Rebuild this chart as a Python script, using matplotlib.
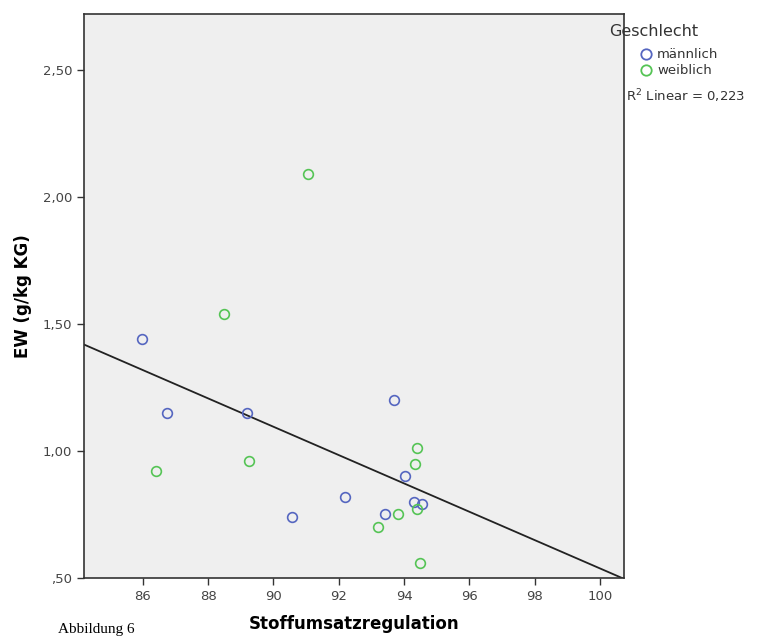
import numpy as np
import matplotlib
matplotlib.use("Agg")
import matplotlib.pyplot as plt
from matplotlib.lines import Line2D

# Stoffumsatzregulation vs. EW, split by Geschlecht
x_m = [85.97, 86.73, 89.18, 93.68, 94.04, 92.18, 90.56, 93.40, 94.29, 94.56]
y_m = [1.44, 1.15, 1.15, 1.20, 0.90, 0.82, 0.74, 0.75, 0.80, 0.79]
x_w = [91.05, 88.48, 86.40, 89.24, 94.38, 94.32, 93.19, 93.80, 94.40, 94.50]
y_w = [2.09, 1.54, 0.92, 0.96, 1.01, 0.95, 0.70, 0.75, 0.77, 0.56]

x_ticks = [86, 88, 90, 92, 94, 96, 98, 100]
y_ticks = [0.5, 1.0, 1.5, 2.0, 2.5]
y_ticklabels = [",50", "1,00", "1,50", "2,00", "2,50"]
r2_text = "0,223"

col_m = "#5566c0"
col_w = "#55c455"

fig = plt.figure(figsize=(7.58, 6.37), dpi=100)
ax = fig.add_axes([84/758, 59/637, 540/758, 564/637])
ax.set_facecolor("#efefef")

xlim = (84.2, 100.73)
ylim = (0.5, 2.72)

# fit line over all cases
xa = np.array(x_m + x_w)
ya = np.array(y_m + y_w)
slope, icpt = np.polyfit(xa, ya, 1)
xs = np.array(xlim)
ax.plot(xs, icpt + slope * xs, color="#222222", lw=1.3, zorder=2)

ax.plot(x_m, y_m, "o", mfc="none", mec=col_m, ms=7, mew=1.2, zorder=3, clip_on=False)
ax.plot(x_w, y_w, "o", mfc="none", mec=col_w, ms=7, mew=1.2, zorder=3, clip_on=False)

ax.set_xlim(*xlim)
ax.set_ylim(*ylim)
ax.set_xticks(x_ticks)
ax.set_xticklabels([str(t) for t in x_ticks])
ax.set_yticks(y_ticks)
ax.set_yticklabels(y_ticklabels)
ax.tick_params(direction="out", length=5, width=1, colors="#333333",
               labelsize=9.5, labelcolor="#444444")
for s in ax.spines.values():
    s.set_color("#333333")
    s.set_linewidth(1.2)

ax.set_xlabel("Stoffumsatzregulation", fontsize=12, fontweight="bold", labelpad=9)
ax.set_ylabel("EW (g/kg KG)", fontsize=12, fontweight="bold", labelpad=8)

# legend block on the right
fig.text(609/758, 1 - 31/637, "Geschlecht", fontsize=11.5, color="#333333", va="center")
for i, (lab, c) in enumerate([("männlich", col_m), ("weiblich", col_w)]):
    yy = 1 - (54 + 16 * i) / 637
    fig.add_artist(Line2D([646/758], [yy], marker="o", mfc="none", mec=c, ms=7.5, mew=1.3,
                          transform=fig.transFigure))
    fig.text(657/758, yy, lab, fontsize=9.5, color="#333333", va="center")
fig.text(626/758, 1 - 96/637, r"R$^2$ Linear = " + r2_text, fontsize=9.5,
         color="#333333", va="center")

fig.text(58/758, 1/637, "Abbildung 6", fontsize=11, family="Liberation Serif", va="bottom")

fig.savefig("out.png", dpi=100)
